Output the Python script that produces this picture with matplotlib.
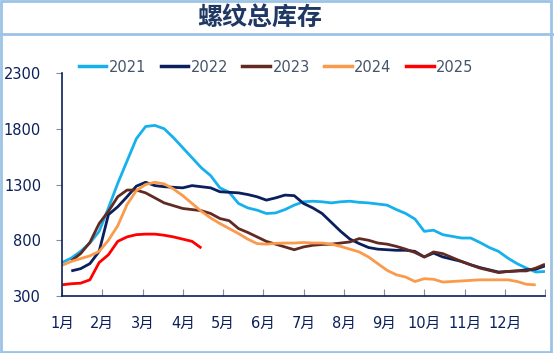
import numpy as np
import matplotlib
matplotlib.use('Agg')
import matplotlib.pyplot as plt
from matplotlib.lines import Line2D
from matplotlib.patches import Rectangle

plt.rcParams['font.family'] = ['DejaVu Sans', 'Noto Sans CJK SC']

# weekly inventory readings (week index, value)
weeks_2021 = list(range(0, 53))
inv_2021 = [600, 640, 700, 775, 880, 1090, 1310, 1510, 1710, 1820, 1830, 1800, 1720,
            1630, 1540, 1450, 1380, 1270, 1230, 1130, 1090, 1070, 1040, 1045, 1075,
            1115, 1145, 1150, 1145, 1135, 1145, 1150, 1140, 1135, 1125, 1115, 1075,
            1040, 990, 880, 890, 850, 835, 820, 820, 780, 735, 700, 640, 590, 550,
            515, 520]

weeks_2022 = list(range(1, 53))
inv_2022 = [525, 545, 590, 700, 1030, 1100, 1190, 1285, 1320, 1290, 1280, 1275,
            1270, 1290, 1280, 1270, 1235, 1230, 1225, 1210, 1190, 1160, 1180, 1205,
            1200, 1130, 1090, 1040, 960, 880, 810, 770, 735, 720, 715, 710, 710, 700,
            650, 685, 650, 630, 610, 580, 555, 535, 515, 520, 525, 535, 540, 570]

weeks_2023 = list(range(1, 53))
inv_2023 = [615, 680, 780, 950, 1060, 1190, 1250, 1250, 1225, 1180, 1135, 1110,
            1085, 1075, 1065, 1040, 995, 975, 905, 870, 830, 790, 765, 740, 715, 740,
            755, 762, 765, 775, 785, 815, 800, 775, 765, 745, 720, 690, 650, 695, 680,
            645, 610, 580, 550, 530, 510, 520, 525, 525, 550, 585]

weeks_2024 = list(range(0, 52))
inv_2024 = [575, 610, 635, 660, 700, 800, 930, 1120, 1245, 1300, 1320, 1305, 1260,
            1200, 1130, 1060, 1000, 950, 905, 860, 810, 770, 765, 772, 775, 775, 780,
            775, 775, 765, 745, 720, 695, 650, 590, 530, 490, 470, 430, 455, 450, 425,
            430, 435, 440, 445, 445, 445, 445, 430, 405, 400]

weeks_2025 = list(range(0, 16))
inv_2025 = [400, 410, 415, 445, 600, 670, 790, 830, 850, 855, 855, 845, 830, 810,
            790, 730]

years = ['2021', '2022', '2023', '2024', '2025']
colors = ['#16B1EC', '#0B1F5C', '#612A22', '#FA9A4C', '#FF0000']
series = [(weeks_2021, inv_2021), (weeks_2022, inv_2022), (weeks_2023, inv_2023),
          (weeks_2024, inv_2024), (weeks_2025, inv_2025)]
month_labels = ['1月', '2月', '3月', '4月', '5月', '6月', '7月', '8月', '9月',
                '10月', '11月', '12月']

fig = plt.figure(figsize=(5.54, 3.53), dpi=100)
ax = fig.add_axes([62 / 554, 1 - 296 / 353, (545 - 62) / 554, (296 - 73) / 353])

for (w, v), yr, c in zip(series, years, colors):
    x = np.array(w) * 12 / 52
    ax.plot(x, v, color=c, lw=2.0, label=yr, solid_capstyle='butt')

ax.set_xlim(0, 12)
ax.set_ylim(300, 2300)
ax.set_yticks([300, 800, 1300, 1800, 2300])
ax.set_xticks(range(0, 13))
ax.set_xticklabels(month_labels + [''])
navy = '#0B1F5C'
for s in ['top', 'right']:
    ax.spines[s].set_visible(False)
for s in ['left', 'bottom']:
    ax.spines[s].set_color(navy)
    ax.spines[s].set_linewidth(1.2)
ax.tick_params(axis='y', direction='out', length=4, color='#7F8FA9', pad=11,
               labelsize=10.5, labelcolor=navy)
ax.tick_params(axis='x', direction='in', length=5, color='#7F8FA9', pad=14,
               labelsize=10.5, labelcolor=navy)

handles = [Line2D([0], [0], color=c, lw=2.5) for c in colors]
fig.legend(handles, years, loc='center', bbox_to_anchor=(276 / 554, 1 - 67 / 353),
           ncol=5, frameon=False, fontsize=10.5, handlelength=1.9, handletextpad=0.15,
           columnspacing=1.0, labelcolor='#44546A')

# frame and title box
border = '#9DC3E6'
fig.add_artist(Rectangle((0.002, 0.003), 0.992, 0.994, transform=fig.transFigure,
                         fill=False, edgecolor=border, lw=2.0))
fig.add_artist(Line2D([0, 1], [1 - 34 / 353, 1 - 34 / 353], transform=fig.transFigure,
                      color=border, lw=2.0))
fig.text(260 / 554, 1 - 18 / 353, '螺纹总库存', ha='center', va='center', fontsize=18,
         fontweight='bold', color='#1F3864', family=['Noto Sans CJK SC'])

fig.savefig('out.png', dpi=100)
